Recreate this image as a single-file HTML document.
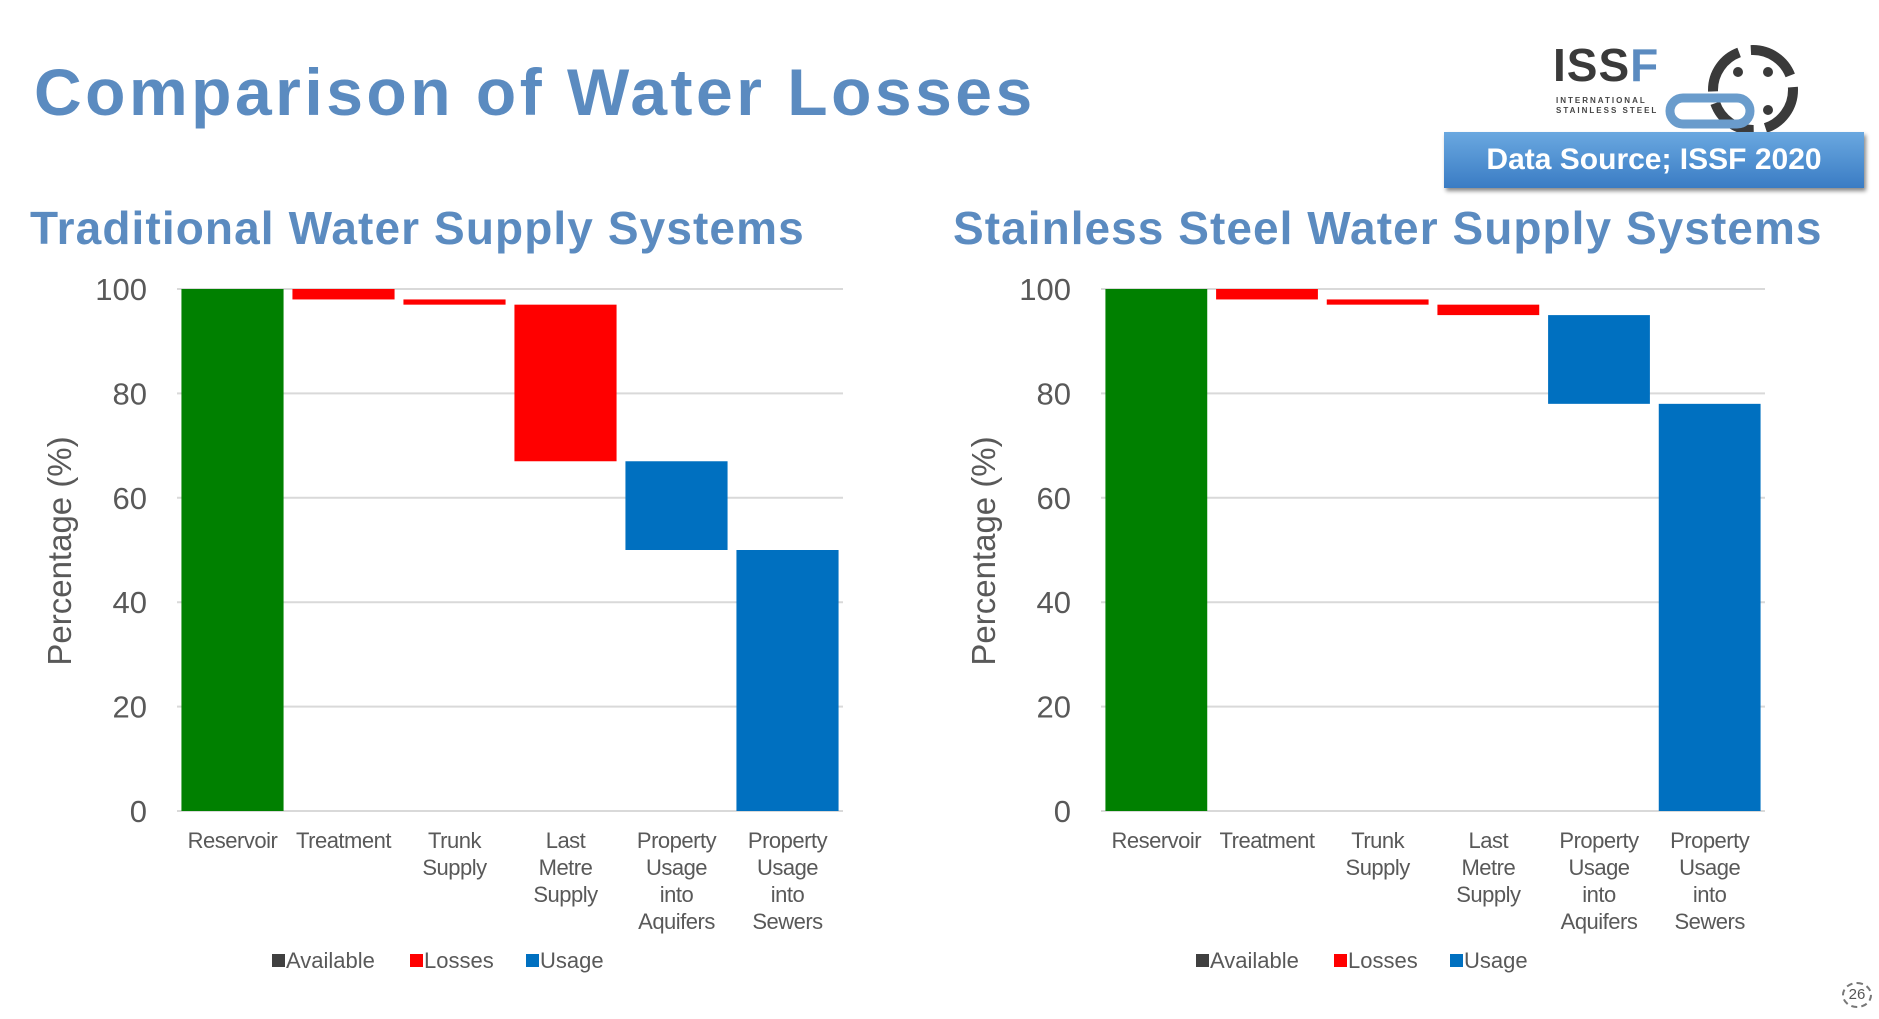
<!DOCTYPE html>
<html><head><meta charset="utf-8">
<style>
body{margin:0;width:1879px;height:1019px;background:#fff;overflow:hidden;font-family:"Liberation Sans",sans-serif;position:relative}
.t{position:absolute;white-space:nowrap}
</style></head>
<body>
<div class="t" style="left:34px;top:54px;font-size:66px;font-weight:bold;color:#5b8bc0;letter-spacing:3.5px">Comparison of Water Losses</div>
<div class="t" style="left:30px;top:201px;font-size:46px;font-weight:bold;color:#5b8bc0;letter-spacing:1.1px">Traditional Water Supply Systems</div>
<div class="t" style="left:953px;top:201px;font-size:46px;font-weight:bold;color:#5b8bc0;letter-spacing:1.05px">Stainless Steel Water Supply Systems</div>
<div class="t" style="left:1553px;top:38px;font-size:46px;font-weight:bold;color:#3a3a3a;letter-spacing:1px">ISS<span style="color:#5b8bc0">F</span></div>
<div class="t" style="left:1556px;top:96px;font-size:8px;font-weight:bold;color:#444;letter-spacing:2px;line-height:10px">INTERNATIONAL<br>STAINLESS STEEL</div>
<svg style="position:absolute;left:1660px;top:40px" width="150" height="100">
<circle cx="93" cy="50" r="40" fill="none" stroke="#3a3a3a" stroke-width="10" stroke-dasharray="50 12"/>
<rect x="10" y="58" width="80" height="26" rx="13" fill="none" stroke="#6a9ccc" stroke-width="9"/>
<circle cx="78" cy="32" r="5" fill="#3a3a3a"/><circle cx="108" cy="32" r="5" fill="#3a3a3a"/><circle cx="108" cy="70" r="5" fill="#3a3a3a"/>
</svg>
<div class="t" style="left:1444px;top:132px;width:420px;height:56px;background:linear-gradient(#6aa8e0,#3a7cc4);box-shadow:2px 3px 4px #888;color:#fff;font-weight:bold;font-size:30px;line-height:56px;text-align:center">Data Source; ISSF 2020</div>
<div class="t" style="left:1842px;top:982px;font-size:15px;color:#555;border:2px dashed #777;border-radius:50%;width:26px;height:22px;text-align:center;line-height:22px">26</div>
<svg id="chart" style="position:absolute;left:0;top:0" width="1879" height="1019"></svg>
<script>
const categories=["Reservoir","Treatment","Trunk\nSupply","Last\nMetre\nSupply","Property\nUsage\ninto\nAquifers","Property\nUsage\ninto\nSewers"];
const kinds=["available","loss","loss","loss","usage","usage"];
const tradTop=[100,100,98,97,67,50];
const tradBottom=[0,98,97,67,50,0];
const ssTop=[100,100,98,97,95,78];
const ssBottom=[0,98,97,95,78,0];
const yTicks=[0,20,40,60,80,100];
const legendLabels=["Available","Losses","Usage"];
const colors={available:"#008000",loss:"#ff0000",usage:"#0070c0"};
const legendColors=["#404040","#ff0000","#0070c0"];
const svg=document.getElementById('chart');
const NS="http://www.w3.org/2000/svg";
function mk(t,a){const e=document.createElementNS(NS,t);for(const k in a)e.setAttribute(k,a[k]);svg.appendChild(e);return e;}
function draw(prefix,x0,x1,tops,bots){
  const y0=811,y1=289;
  const ys=v=>y0+(y1-y0)*v/100;
  const bw=(x1-x0)/categories.length;
  yTicks.forEach(t=>{
    const l=mk('line',{x1:x0,x2:x1,y1:ys(t),y2:ys(t),stroke:'#d9d9d9','stroke-width':2});
    
    
    const tx=mk('text',{x:x0-30,y:ys(t)+11,'text-anchor':'end','font-size':31,fill:'#595959','font-family':'Liberation Sans'});
    tx.textContent=t;
    
    
  });
  const at=mk('text',{transform:`translate(${x0-106},551) rotate(-90)`,'text-anchor':'middle','font-size':33,fill:'#595959','font-family':'Liberation Sans'});
  at.textContent='Percentage (%)';
  
  
  categories.forEach((c,i)=>{
    const cx=x0+bw*(i+0.5);
    const r=mk('rect',{x:cx-bw*0.46,width:bw*0.92,y:ys(tops[i]),height:ys(bots[i])-ys(tops[i]),fill:colors[kinds[i]]});
    
    
    c.split('\n').forEach((ln,j)=>{
      const t=mk('text',{x:cx,y:848+j*27,'text-anchor':'middle','font-size':22,fill:'#595959','font-family':'Liberation Sans','letter-spacing':'-0.5'});
      t.textContent=ln;
      
      
    });
  });
  let lx=x0+95;
  legendLabels.forEach((lab,i)=>{
    const s=mk('rect',{x:lx,y:954,width:13,height:13,fill:legendColors[i]});
    
    
    const t=mk('text',{x:lx+14,y:968,'font-size':22,fill:'#595959','font-family':'Liberation Sans'});
    t.textContent=lab;
    
    
    lx+=[138,116,0][i];
  });
}
draw('traditional',177,843,tradTop,tradBottom);
draw('stainless',1101,1765,ssTop,ssBottom);
</script>
</body></html>
